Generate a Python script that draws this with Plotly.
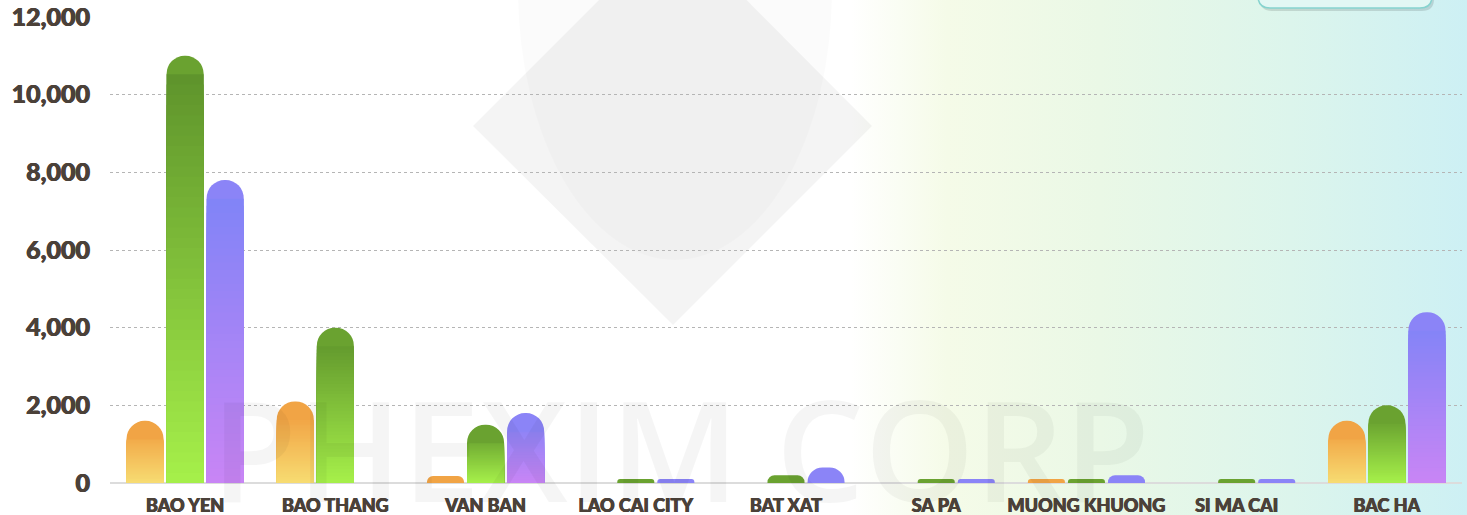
import base64
import plotly.graph_objects as go

# ---------------- data ----------------
categories = ["BAO YEN", "BAO THANG", "VAN BAN", "LAO CAI CITY", "BAT XAT",
              "SA PA", "MUONG KHUONG", "SI MA CAI", "BAC HA"]
series_names = ["Series 1", "Series 2", "Series 3"]
values_orange = [1600, 2100, 180, 0, 0, 0, 100, 0, 1600]
values_green = [11000, 4000, 1500, 100, 200, 100, 100, 100, 2000]
values_purple = [7800, 0, 1800, 100, 400, 100, 200, 100, 4400]
y_ticks = [0, 2000, 4000, 6000, 8000, 10000, 12000]

# ---------------- style ----------------
W, H = 1467, 515
ML, MR, MT, MB = 110, 5, 17, 32
PW, PH = W - ML - MR, H - MT - MB
YMAX = 12000
BARGAP, GROUPGAP = 0.2, 0.075
TXT = "#4b4139"
grad = [  # (top colour, bottom colour)
    ((240, 150, 58), (247, 220, 114)),
    ((91, 143, 42), (166, 240, 74)),
    ((124, 132, 247), (201, 133, 245)),
]
N_BANDS = 40

slot_px = PW / len(categories) * (1 - BARGAP) / 3
bar_px = slot_px * (1 - GROUPGAP)
cap_units = (bar_px / 2) * YMAX / PH


def lerp(c0, c1, t):
    return "rgb(%d,%d,%d)" % tuple(round(a + (b - a) * t) for a, b in zip(c0, c1))


fig = go.Figure()
all_series = [values_orange, values_green, values_purple]
for s, vals in enumerate(all_series):
    top, bot = grad[s]
    fig.add_trace(go.Bar(
        x=categories, y=vals, name=series_names[s], offsetgroup=str(s),
        marker=dict(color=lerp(bot, top, 0.8), cornerradius="50%", line=dict(width=0)),
        showlegend=False))
    for k in range(N_BANDS):
        ys, cols = [], []
        for v in vals:
            body = v - cap_units
            if body <= 0:
                ys.append(0)
                cols.append("rgba(0,0,0,0)")
                continue
            hi = body * (N_BANDS - k) / N_BANDS
            lo = body * (N_BANDS - k - 1) / N_BANDS
            f = ((hi + lo) / 2) / v
            ys.append(hi)
            cols.append(lerp(bot, top, f))
        fig.add_trace(go.Bar(
            x=categories, y=ys, offsetgroup=str(s), hoverinfo="skip",
            marker=dict(color=cols, line=dict(width=0)), showlegend=False))

# background gradient as an svg image
svg = f'''<svg xmlns="http://www.w3.org/2000/svg" width="{W}" height="{H}">
<defs><linearGradient id="g" x1="0" y1="0" x2="1" y2="0">
<stop offset="0" stop-color="#ffffff"/>
<stop offset="0.58" stop-color="#ffffff"/>
<stop offset="0.645" stop-color="#f5fbe8"/>
<stop offset="0.75" stop-color="#eaf8e6"/>
<stop offset="0.88" stop-color="#dcf5ec"/>
<stop offset="1" stop-color="#cdf0f4"/>
</linearGradient></defs>
<rect width="{W}" height="{H}" fill="url(#g)"/>
</svg>'''
uri = "data:image/svg+xml;base64," + base64.b64encode(svg.encode()).decode()


def px_x(p):
    return (p - ML) / PW


def px_y(p):
    return (H - MB - p) / PH


shapes = [
    # faint ellipse
    dict(type="circle", xref="paper", yref="paper",
         x0=px_x(518), x1=px_x(832), y0=px_y(260), y1=px_y(-280),
         fillcolor="rgba(0,0,0,0.015)", line=dict(width=0), layer="below"),
    # diamond watermark
    dict(type="path", xref="paper", yref="paper", layer="below",
         path=f"M {px_x(473)},{px_y(126)} L {px_x(673)},{px_y(-74)} L {px_x(872)},{px_y(126)} L {px_x(673)},{px_y(325)} Z",
         fillcolor="rgba(0,0,0,0.042)", line=dict(width=0)),
]

# legend box (mostly cut off at top)
rx, ry = 12 / PW, 12 / PH


def rounded_bottom(x0, x1, yb, ytop):
    return (f"M {x0},{ytop} L {x0},{yb + ry} Q {x0},{yb} {x0 + rx},{yb} "
            f"L {x1 - rx},{yb} Q {x1},{yb} {x1},{yb + ry} L {x1},{ytop} Z")


shapes.append(dict(type="path", xref="paper", yref="paper",
                   path=rounded_bottom(px_x(1260), px_x(1434), px_y(11), 1.2),
                   fillcolor="rgba(0,0,0,0.12)", line=dict(width=0)))
shapes.append(dict(type="path", xref="paper", yref="paper",
                   path=rounded_bottom(px_x(1258), px_x(1432), px_y(8), 1.2),
                   fillcolor="#e2f7f4", line=dict(color="#86d3cf", width=1.5)))

thick = f"0.45px 0 0 {TXT}, -0.45px 0 0 {TXT}"

fig.update_layout(
    width=W, height=H,
    margin=dict(l=ML, r=MR, t=MT, b=MB, autoexpand=False),
    paper_bgcolor="white", plot_bgcolor="rgba(0,0,0,0)",
    barmode="group", bargap=BARGAP, bargroupgap=GROUPGAP,
    showlegend=False,
    images=[dict(source=uri, xref="paper", yref="paper",
                 x=-ML / PW, y=1 + MT / PH, sizex=W / PW, sizey=H / PH,
                 sizing="stretch", xanchor="left", yanchor="top", layer="below")],
    shapes=shapes,
    annotations=[dict(text="PHEXIM CORP", xref="paper", yref="paper",
                      x=px_x(680), y=px_y(447), xanchor="center", yanchor="middle",
                      showarrow=False,
                      font=dict(family="Open Sans", size=140, weight=600,
                                color="rgba(0,0,0,0.04)"))],
    font=dict(family="Lato", color=TXT),
    xaxis=dict(showgrid=False, showline=False, zeroline=False, ticks="",
               tickfont=dict(family="Lato", size=18, weight=900, color=TXT, shadow=thick),
               ticklabelstandoff=10, fixedrange=True),
    yaxis=dict(range=[0, YMAX], tickvals=y_ticks, tickformat=",d",
               showgrid=True, gridcolor="#b5b5b5", griddash="dot", gridwidth=1,
               zeroline=True, zerolinecolor="#dcdcdc", zerolinewidth=1.5,
               showline=False, ticks="",
               tickfont=dict(family="Lato", size=25, weight=900, color=TXT, shadow=thick),
               ticklabelstandoff=19, fixedrange=True),
)

fig.write_html("out.html", config={"displayModeBar": False},
               post_script="document.body.style.margin='0';")
